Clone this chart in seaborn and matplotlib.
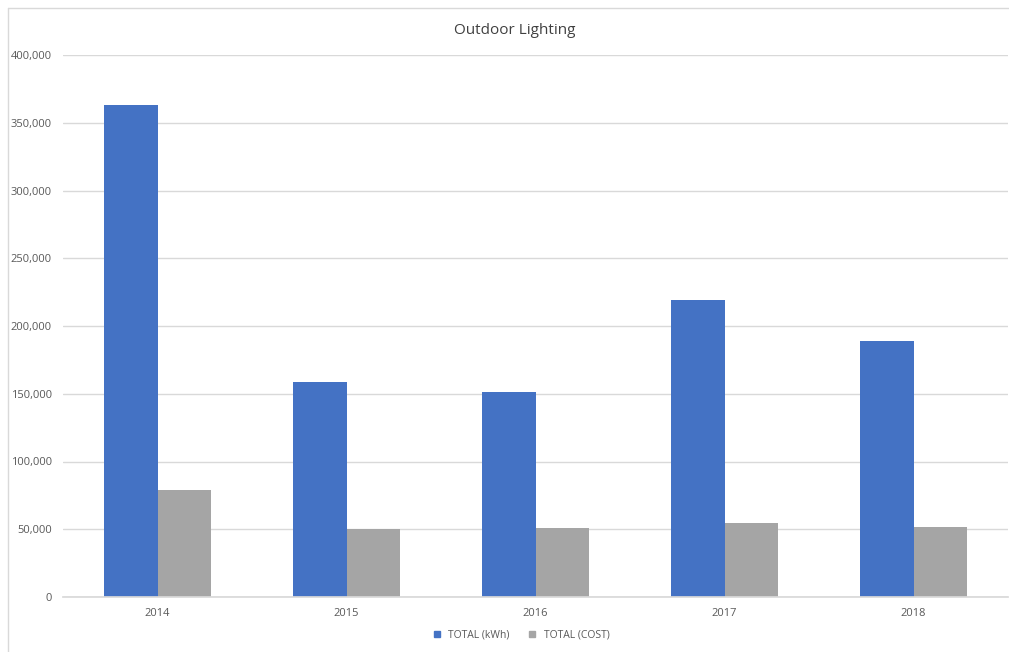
import matplotlib
matplotlib.use("Agg")
import matplotlib.pyplot as plt
import seaborn as sns
import pandas as pd
from matplotlib.lines import Line2D
from matplotlib.ticker import FuncFormatter

years = ["2014", "2015", "2016", "2017", "2018"]
total_kwh = [363000, 159000, 151000, 219000, 189000]
total_cost = [79000, 50200, 50900, 54400, 51900]
series_names = ["TOTAL (kWh)", "TOTAL (COST)"]
colors = ["#4472C4", "#A5A5A5"]

df = pd.DataFrame({
    "Year": years * 2,
    "Value": total_kwh + total_cost,
    "Series": [series_names[0]] * len(years) + [series_names[1]] * len(years),
})

sns.set_theme(style="white")
plt.rcParams["font.family"] = ["Open Sans", "DejaVu Sans"]

fig = plt.figure(figsize=(10.09, 6.52), dpi=100)
ax = fig.add_axes([63 / 1009, 1 - 597 / 652, (1008 - 63) / 1009, (597 - 55) / 652])

sns.barplot(data=df, x="Year", y="Value", hue="Series", palette=colors,
            width=0.57, gap=0, saturation=1, ax=ax, legend=False, errorbar=None,
            linewidth=0)

ax.set_ylim(0, 400000)
ax.set_yticks(range(0, 400001, 50000))
ax.yaxis.set_major_formatter(FuncFormatter(lambda v, p: f"{int(v):,}"))
ax.grid(axis="y", color="#D9D9D9", linewidth=1)
ax.set_axisbelow(True)
for s in ["top", "right", "left"]:
    ax.spines[s].set_visible(False)
ax.spines["bottom"].set_color("#D9D9D9")
ax.tick_params(axis="both", length=0, labelsize=8, labelcolor="#595959", pad=8)
ax.set_xlabel("")
ax.set_ylabel("")
ax.set_xlim(-0.5, 4.5)

fig.text(515 / 1009, 1 - 30 / 652, "Outdoor Lighting", ha="center", va="center",
         fontsize=11, color="#404040")

handles = [Line2D([0], [0], marker="s", linestyle="", markersize=5,
                  markerfacecolor=c, markeredgecolor=c) for c in colors]
fig.legend(handles, series_names, loc="center", bbox_to_anchor=(518 / 1009, 1 - 635 / 652),
           ncol=2, frameon=False, fontsize=7.5, handletextpad=0.1, columnspacing=1.2,
           labelcolor="#595959")

# chart-area frame (top and left edges visible)
fig.add_artist(Line2D([8 / 1009, 1.0], [1 - 8 / 652, 1 - 8 / 652], transform=fig.transFigure,
                      color="#D9D9D9", linewidth=1))
fig.add_artist(Line2D([8 / 1009, 8 / 1009], [0.0, 1 - 8 / 652], transform=fig.transFigure,
                      color="#D9D9D9", linewidth=1))

fig.savefig("out.png", dpi=100)
